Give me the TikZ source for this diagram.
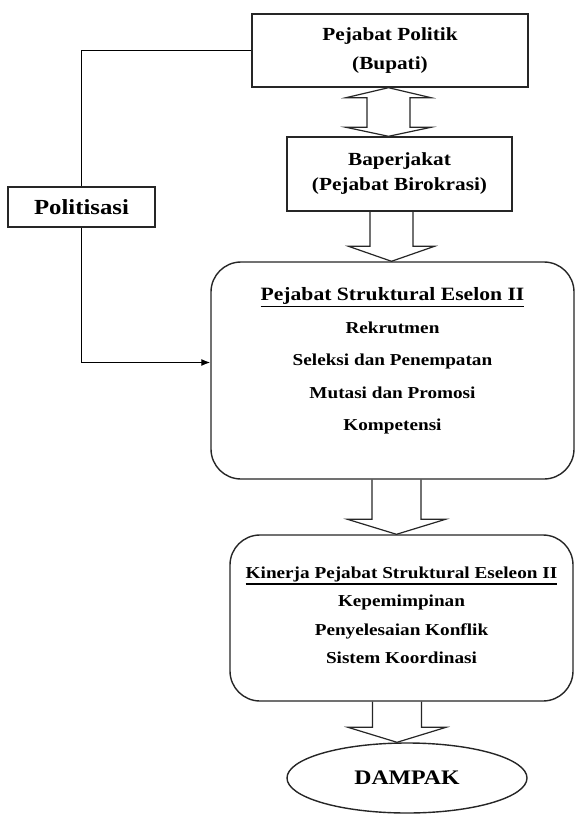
\documentclass[tikz,border=0pt]{standalone}
\usepackage{fontspec}
\setmainfont{Liberation Serif}[FakeStretch=1.15]
\usetikzlibrary{arrows.meta, positioning, calc, shapes.geometric}

% garis bawah tebal untuk judul
\newcommand{\garisbawah}[1]{\vtop{\hbox{#1}\kern1.6pt\hrule height 1.3pt}}

% panah blok ke bawah: #1 = x tengah, #2 = setengah lebar batang, #3 = node atas, #4 = node bawah
\newcommand{\panahblok}[4]{%
  \draw[panah] let \p1=(#3.south), \p2=(#4.north) in
    ({#1pt-#2pt},\y1) -- ({#1pt-#2pt},\y2+15pt) -- ({#1pt-2*#2pt},\y2+15pt) -- (#1pt,\y2)
    -- ({#1pt+2*#2pt},\y2+15pt) -- ({#1pt+#2pt},\y2+15pt) -- ({#1pt+#2pt},\y1);}

\begin{document}
\begin{tikzpicture}[x=1pt, y=-1pt,
  kotak/.style={draw=black!85, line width=1.4pt, fill=white, inner sep=0pt, align=center},
  kotakbulat/.style={kotak, rounded corners=30pt},
  panah/.style={draw=black!85, line width=1.2pt, line join=miter},
  garis/.style={draw=black, line width=1.3pt},
  teks/.style={inner sep=0pt, align=center}]
  \useasboundingbox (0,0) rectangle (575,818);

  \node[kotak, minimum width=276, minimum height=73, font=\bfseries\fontsize{18.5}{29}\selectfont] (bupati) at (390,50.5) {Pejabat Politik\\(Bupati)};
  \node[kotak, minimum width=225, minimum height=74, font=\bfseries\fontsize{18.5}{25}\selectfont] (baperjakat) at (399.5,174) {Baperjakat\\(Pejabat Birokrasi)};
  \node[kotak, minimum width=147, minimum height=40, font=\bfseries\fontsize{21.5}{24}\selectfont] (politisasi) at (81.5,207) {Politisasi};
  \node[kotakbulat, minimum width=363, minimum height=217] (utama) at (392.5,370.5) {};
  \node[kotakbulat, minimum width=343, minimum height=166] (kinerja) at (401.5,618) {};
  \node[kotak, ellipse, minimum width=240, minimum height=70, font=\bfseries\fontsize{20.7}{24}\selectfont] (dampak) at (407,778) {DAMPAK};

  \node[teks, anchor=north, font=\bfseries\fontsize{16.7}{32.5}\selectfont] (isiutama) at ([yshift=-26pt]utama.north)
    {{\fontsize{18.8}{32.5}\selectfont\garisbawah{Pejabat Struktural Eselon II}}\\ Rekrutmen\\ Seleksi dan Penempatan\\ Mutasi dan Promosi\\ Kompetensi};
  \node[teks, anchor=north, font=\bfseries\fontsize{16.7}{28.5}\selectfont] (isikinerja) at ([yshift=-32pt]kinerja.north)
    {\garisbawah{Kinerja Pejabat Struktural Eseleon II}\\ Kepemimpinan\\ Penyelesaian Konflik\\ Sistem Koordinasi};

  % panah dua arah
  \draw[panah] let \p1=(bupati.south), \p2=(baperjakat.north) in
    (388.5pt,\y1) -- (431pt,\y1-10pt) -- (410pt,\y1-10pt) -- (410pt,\y2+9pt)
    -- (431pt,\y2+9pt) -- (388.5pt,\y2) -- (346pt,\y2+9pt) -- (367pt,\y2+9pt)
    -- (367pt,\y1-10pt) -- (346pt,\y1-10pt) -- cycle;
  \panahblok{391.5}{21.5}{baperjakat}{utama}
  \panahblok{396.5}{24.5}{utama}{kinerja}
  \panahblok{397}{24.5}{kinerja}{dampak}

  \draw[garis] (bupati.west) -| (politisasi.north);
  \draw[garis, -{Latex[length=9pt,width=7pt]}] (politisasi.south) |- ([yshift=8pt]utama.west);
\end{tikzpicture}
\end{document}
